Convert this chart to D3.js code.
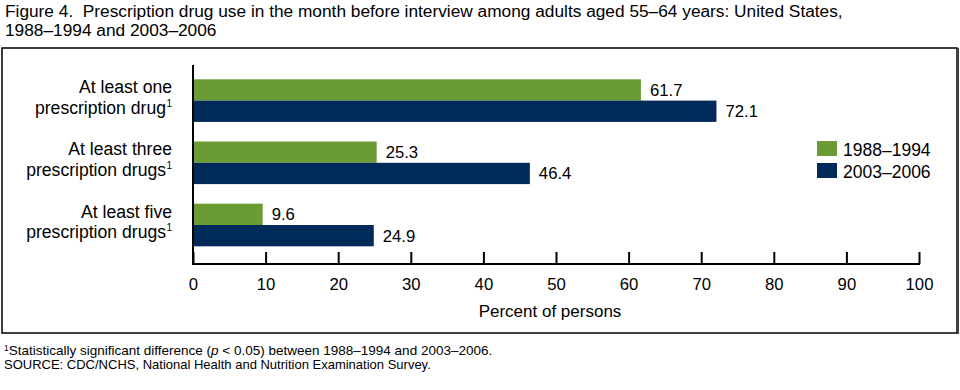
<!DOCTYPE html>
<html>
<head>
<meta charset="utf-8">
<script src="https://cdn.jsdelivr.net/npm/d3@7"></script>
<style>
  body { margin: 0; background: #fff; }
  svg { display: block; font-family: "Liberation Sans", Arial, sans-serif; }
</style>
</head>
<body>
<svg id="chart" width="960" height="390"></svg>
<script>
const categories = ["one", "three", "five"];
const categoryLine1 = ["At least one", "At least three", "At least five"];
const categoryLine2 = ["prescription drug", "prescription drugs", "prescription drugs"];
const seriesNames = ["1988\u20131994", "2003\u20132006"];
const values1988 = [61.7, 25.3, 9.6];
const values2003 = [72.1, 46.4, 24.9];
const xTicks = [0, 10, 20, 30, 40, 50, 60, 70, 80, 90, 100];
const colors = ["#6b9b35", "#002a5a"];

const svg = d3.select("#chart");

// Title
const title = svg.append("text").attr("font-size", 17.3).attr("fill", "#000");
title.append("tspan").attr("x", 5).attr("y", 17)
  .text("Figure 4.\u00a0 Prescription drug use in the month before interview among adults aged 55\u201364 years: United States,");
title.append("tspan").attr("x", 5).attr("y", 36).text("1988\u20131994 and 2003\u20132006");

// Frame
svg.append("rect").attr("x", 2).attr("y", 48).attr("width", 955).attr("height", 285)
  .attr("fill", "none").attr("stroke", "#000").attr("stroke-width", 1.5);
svg.append("line").attr("x1", 958).attr("x2", 958).attr("y1", 48).attr("y2", 334)
  .attr("stroke", "#444").attr("stroke-width", 2);

const x = d3.scaleLinear().domain([0, 100]).range([193, 919]);
const y = d3.scaleBand().domain(categories).range([69.5, 256.1])
  .paddingInner(0.315).paddingOuter(0.1575);
const ySub = d3.scaleBand().domain([0, 1]).range([0, y.bandwidth()]);

const data = categories.map((c, i) => ({ c, vals: [values1988[i], values2003[i]] }));

const groups = svg.append("g").selectAll("g").data(data).join("g")
  .attr("transform", d => `translate(0,${y(d.c)})`);

groups.selectAll("rect").data(d => d.vals.map((v, k) => ({ v, k }))).join("rect")
  .attr("x", x(0))
  .attr("y", d => ySub(d.k))
  .attr("width", d => x(d.v) - x(0))
  .attr("height", ySub.bandwidth())
  .attr("fill", d => colors[d.k]);

groups.selectAll("text.val").data(d => d.vals.map((v, k) => ({ v, k }))).join("text")
  .attr("class", "val")
  .attr("x", d => x(d.v) + 9)
  .attr("y", d => ySub(d.k) + ySub.bandwidth() / 2 + 6)
  .attr("font-size", 16.7)
  .text(d => d.v.toFixed(1));

// Category labels
data.forEach((d, i) => {
  const yc = y(d.c) + y.bandwidth() / 2;
  svg.append("text").attr("text-anchor", "end").attr("font-size", 17.6)
    .attr("x", 172).attr("y", yc - 7.5).text(categoryLine1[i]);
  svg.append("text").attr("text-anchor", "end").attr("font-size", 17.6)
    .attr("x", 166).attr("y", yc + 13).text(categoryLine2[i]);
  svg.append("text").attr("x", 166.5).attr("y", yc + 6).attr("font-size", 10).text("1");
});

// X axis
const axisY = 264;
const xAxis = d3.axisBottom(x).tickValues(xTicks).tickSize(0).tickPadding(0).tickFormat(d3.format("d"));
const ax = svg.append("g").attr("transform", `translate(0,${axisY})`).call(xAxis);
ax.select(".domain").remove();
ax.selectAll(".tick text").attr("font-size", 16.7).attr("font-family", "Liberation Sans, Arial, sans-serif")
  .attr("fill", "#000").attr("dy", 0).attr("y", 26);
ax.selectAll(".tick").append("line").attr("y1", 0).attr("y2", -12)
  .attr("stroke", "#000").attr("stroke-width", 2);
ax.append("line").attr("x1", x(0) - 1).attr("x2", x(100) + 1).attr("y1", 0).attr("y2", 0)
  .attr("stroke", "#000").attr("stroke-width", 2);
svg.append("line").attr("x1", x(0)).attr("x2", x(0)).attr("y1", 65).attr("y2", axisY)
  .attr("stroke", "#000").attr("stroke-width", 2);

svg.append("text").attr("x", 550).attr("y", 317).attr("text-anchor", "middle")
  .attr("font-size", 17).text("Percent of persons");

// Legend
const legend = svg.append("g");
seriesNames.forEach((s, i) => {
  legend.append("rect").attr("x", 817).attr("y", 141 + i * 22).attr("width", 20).attr("height", 15)
    .attr("fill", colors[i]);
  legend.append("text").attr("x", 843).attr("y", 156 + i * 22).attr("font-size", 17.5).text(s);
});

// Footnotes
const f1 = svg.append("text").attr("x", 4).attr("y", 355).attr("font-size", 13.5);
f1.append("tspan").attr("font-size", 8.5).attr("dy", -4).text("1");
f1.append("tspan").attr("dy", 4).text("Statistically significant difference (");
f1.append("tspan").attr("font-style", "italic").text("p");
f1.append("tspan").text(" < 0.05) between 1988\u20131994 and 2003\u20132006.");
svg.append("text").attr("x", 4).attr("y", 369).attr("font-size", 13)
  .text("SOURCE: CDC/NCHS, National Health and Nutrition Examination Survey.");
</script>
</body>
</html>
